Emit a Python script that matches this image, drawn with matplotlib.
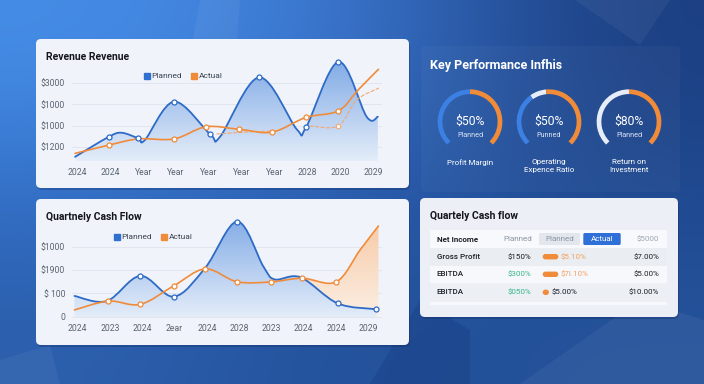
import numpy as np
import matplotlib
matplotlib.use("Agg")
import matplotlib.pyplot as plt
from matplotlib.path import Path
from matplotlib.patches import FancyBboxPatch, PathPatch, Arc, Polygon, Rectangle
from matplotlib.colors import LinearSegmentedColormap
from matplotlib.lines import Line2D

plt.rcParams["font.family"] = ["Roboto", "DejaVu Sans"]

W, H = 704, 384

# ---------------- data ----------------
rev_xlabels = ["2024", "2024", "Year", "Year", "Year", "Year", "Year", "2028", "2020", "2029"]
rev_yticks = [1, 2, 3, 4]
rev_ylabels = ["$1200", "$1000", "$1000", "$3000"]
rev_planned_x = [-0.08, 0.95, 1.34, 1.85, 2.05, 2.94, 4.04, 4.34, 5.53, 6.68, 6.96, 7.95, 8.81, 9.15]
rev_planned_y = [0.54, 1.48, 1.67, 1.41, 1.33, 3.13, 1.60, 1.48, 4.27, 1.83, 1.92, 5.00, 2.42, 2.42]
rev_planned_mark = [0, 1, 0, 1, 0, 1, 1, 0, 1, 0, 1, 1, 0, 0]
rev_actual_x = [-0.08, 0.95, 1.85, 2.94, 3.91, 4.93, 5.93, 6.96, 7.95, 8.55, 9.17]
rev_actual_y = [0.70, 1.09, 1.38, 1.38, 1.95, 1.83, 1.70, 2.39, 2.70, 3.68, 4.65]
rev_actual_mark = [0, 1, 0, 1, 1, 1, 1, 1, 1, 0, 0]
rev_fc_a_x = [4.24, 5.10, 5.96]
rev_fc_a_y = [1.61, 1.70, 1.75]
rev_fc_b_x = [7.08, 7.95, 8.50, 9.17]
rev_fc_b_y = [1.99, 1.99, 3.20, 3.76]

cf_xlabels = ["2024", "2023", "2024", "2ear", "2024", "2028", "2023", "2024", "2024", "2029"]
cf_yticks = [0, 1, 2, 3]
cf_ylabels = ["0", "$ 100", "$1900", "$1000"]
cf_planned_x = [-0.10, 0.90, 1.94, 2.98, 3.95, 4.94, 5.75, 6.10, 6.90, 8.05, 9.25]
cf_planned_y = [0.89, 0.67, 1.75, 0.86, 2.10, 4.08, 2.15, 1.60, 1.69, 0.57, 0.32]
cf_planned_mark = [0, 0, 1, 1, 0, 1, 0, 0, 0, 1, 1]
cf_actual_x = [-0.10, 0.95, 1.94, 2.98, 3.95, 4.93, 5.97, 6.95, 8.00, 8.74, 9.31]
cf_actual_y = [0.29, 0.67, 0.53, 1.33, 2.05, 1.50, 1.49, 1.65, 1.49, 2.86, 3.89]
cf_actual_mark = [0, 1, 1, 1, 1, 1, 1, 1, 1, 0, 0]
cf_peach_from = 7  # actual index where the shaded gap starts

kpi_values = ["$50%", "$50%", "$80%"]
kpi_sub = ["Planned", "Punned", "Planned"]
kpi_names = ["Profit Margin", "Operating\nExpence Ratio", "Return on\nInvestment"]
kpi_blue = [0.50, 0.37, 0.0]
kpi_light = [0.0, 0.11, 0.50]

tbl_header = ["Net Income", "Planned", "Planned", "Actual", "$5000"]
tbl_rows = ["Gross Profit", "EBITDA", "EBITDA"]
tbl_planned = ["$150%", "$300%", "$050%"]
tbl_planned_green = [False, True, True]
tbl_bar = [1.0, 1.0, 0.4]
tbl_actual = ["$5.10%", "$7l.10%", "$5.00%"]
tbl_actual_orange = [True, True, False]
tbl_target = ["$7.00%", "$5.00%", "$10.00%"]

BLUE = "#2e6bc6"
ORANGE = "#f08b3a"
GRID = "#e1e6ee"
TICK = "#5b6470"
CARD = "#f0f4fa"


def smooth(xs, ys, start=0):
    pts = np.column_stack([xs, ys]).astype(float)
    n = len(pts)
    verts = [pts[start]]
    codes = [Path.MOVETO]
    for i in range(start, n - 1):
        p0, p1, p2, p3 = pts[max(i - 1, 0)], pts[i], pts[i + 1], pts[min(i + 2, n - 1)]
        verts += [p1 + (p2 - p0) / 6, p2 - (p3 - p1) / 6, p2]
        codes += [Path.CURVE4] * 3
    return verts, codes


def area_path(xs, ys, ybot, start=0):
    verts, codes = smooth(xs, ys, start)
    verts = verts + [(xs[-1], ybot), (xs[start], ybot), (xs[start], ybot)]
    codes = codes + [Path.LINETO, Path.LINETO, Path.CLOSEPOLY]
    return Path(verts, codes)


def gradient_fill(ax, path, c_top, c_bot, ext):
    patch = PathPatch(path, facecolor="none", edgecolor="none")
    ax.add_patch(patch)
    cmap = LinearSegmentedColormap.from_list("g", [c_bot, c_top])
    im = ax.imshow(np.linspace(1, 0, 256).reshape(-1, 1), cmap=cmap, aspect="auto",
                   extent=ext, origin="upper", zorder=1)
    im.set_clip_path(patch)


def line(ax, xs, ys, color, lw=1.3, **kw):
    v, c = smooth(xs, ys)
    ax.add_patch(PathPatch(Path(v, c), facecolor="none", edgecolor=color, lw=lw,
                           zorder=3, capstyle="round", **kw))


def markers(ax, xs, ys, mask, color):
    xs, ys, mask = np.array(xs), np.array(ys), np.array(mask, bool)
    ax.plot(xs[mask], ys[mask], "o", ms=3.6, mfc="white", mec=color, mew=0.9, zorder=5)


def add_axes_px(fig, x0, y0, x1, y1):
    return fig.add_axes([x0 / W, 1 - y1 / H, (x1 - x0) / W, (y1 - y0) / H])


def style(ax, xlim, ylim, yticks, ylabels, xlabels):
    ax.set_xlim(*xlim)
    ax.set_ylim(*ylim)
    ax.patch.set_visible(False)
    for s in ax.spines.values():
        s.set_visible(False)
    ax.set_yticks(yticks, ylabels)
    ax.set_xticks(range(len(xlabels)), xlabels)
    ax.tick_params(length=0, labelsize=6.2, colors=TICK)
    ax.tick_params(axis="x", pad=5)
    ax.tick_params(axis="y", pad=5)
    ax.grid(axis="y", color=GRID, lw=0.7, zorder=0)
    ax.set_axisbelow(True)


fig = plt.figure(figsize=(W / 100, H / 100), dpi=100)

# ---------------- background ----------------
bg = fig.add_axes([0, 0, 1, 1])
bg.set_xlim(0, W)
bg.set_ylim(H, 0)
bg.axis("off")
corners = np.array([
    [[0x46, 0x8e, 0xe8], [0x3b, 0x76, 0xcf], [0x1b, 0x3e, 0x80]],
    [[0x33, 0x70, 0xc8], [0x2a, 0x5c, 0xae], [0x1f, 0x49, 0x90]],
    [[0x2c, 0x5f, 0xac], [0x22, 0x4f, 0x98], [0x25, 0x53, 0x9a]],
]) / 255
bg.imshow(corners, extent=(0, W, H, 0), interpolation="bicubic", aspect="auto", zorder=0)
facets = [
    [(200, 0), (240, 0), (235, 60), (190, 55)],
    [(575, 0), (670, 0), (640, 45)],
    [(0, 384), (60, 384), (50, 345), (0, 360)],
    [(520, 384), (704, 384), (704, 320), (640, 300)],
]
for f in facets:
    bg.add_patch(Polygon(f, closed=True, facecolor="white", alpha=0.05, lw=0))
bg.add_patch(Polygon([(370, 384), (470, 384), (470, 330), (420, 300)], closed=True,
                     facecolor="#0c2a66", alpha=0.18, lw=0))


def card(x0, y0, x1, y1, color, r=5):
    bg.add_patch(FancyBboxPatch((x0 + 1, y0 + 2), x1 - x0, y1 - y0,
                                boxstyle=f"round,pad=0,rounding_size={r}",
                                facecolor="#0a1f4d", alpha=0.25, lw=0))
    bg.add_patch(FancyBboxPatch((x0, y0), x1 - x0, y1 - y0,
                                boxstyle=f"round,pad=0,rounding_size={r}",
                                facecolor=color, lw=0))


card(36, 39, 409, 188, CARD)
card(36, 199, 409, 345, CARD)
card(420, 198, 678, 317, "#eceff5")
bg.add_patch(FancyBboxPatch((421, 46), 259, 146, boxstyle="round,pad=0,rounding_size=4",
                            facecolor="white", alpha=0.03, lw=0))

bg.text(46, 57, "Revenue Revenue", fontsize=7.5, fontweight="bold", color="#15171c", va="center")
bg.text(46, 217, "Quartnely Cash Flow", fontsize=7.5, fontweight="bold", color="#15171c", va="center")

# ---------------- revenue chart ----------------
ax1 = add_axes_px(fig, 72, 55, 382, 161)
ylim1 = (0.343, 5.32)
xlim1 = ((72 - 77.7) / 32.8, (382 - 77.7) / 32.8)
gradient_fill(ax1, area_path(rev_planned_x, rev_planned_y, ylim1[0]), "#7ca7e5", "#e4edf9",
              (xlim1[0], xlim1[1], ylim1[0], ylim1[1]))
line(ax1, rev_planned_x, rev_planned_y, BLUE)
line(ax1, rev_fc_a_x, rev_fc_a_y, "#f3a86f", lw=0.8, linestyle=(0, (3, 2)))
line(ax1, rev_fc_b_x, rev_fc_b_y, "#f3a86f", lw=0.8, linestyle=(0, (3, 2)))
line(ax1, rev_actual_x, rev_actual_y, ORANGE, lw=1.2)
markers(ax1, rev_planned_x, rev_planned_y, rev_planned_mark, BLUE)
markers(ax1, rev_actual_x, rev_actual_y, rev_actual_mark, ORANGE)
ax1.plot([rev_fc_b_x[1]], [rev_fc_b_y[1]], "o", ms=3.2, mfc="white", mec="#f3a86f", mew=0.8, zorder=5)
style(ax1, xlim1, ylim1, rev_yticks, rev_ylabels, rev_xlabels)

# ---------------- cash flow chart ----------------
ax2 = add_axes_px(fig, 72, 212, 382, 317.5)
ylim2 = (-0.034, 4.49)
xlim2 = ((72 - 77.7) / 32.3, (382 - 77.7) / 32.3)
gradient_fill(ax2, area_path(cf_actual_x, cf_actual_y, ylim2[0], cf_peach_from), "#f6c6a0", "#fcefe4",
              (xlim2[0], xlim2[1], ylim2[0], ylim2[1]))
gradient_fill(ax2, area_path(cf_planned_x, cf_planned_y, ylim2[0]), "#7ca7e5", "#e4edf9",
              (xlim2[0], xlim2[1], ylim2[0], ylim2[1]))
line(ax2, cf_planned_x, cf_planned_y, BLUE)
line(ax2, cf_actual_x, cf_actual_y, ORANGE, lw=1.2)
markers(ax2, cf_planned_x, cf_planned_y, cf_planned_mark, BLUE)
markers(ax2, cf_actual_x, cf_actual_y, cf_actual_mark, ORANGE)
style(ax2, xlim2, ylim2, cf_yticks, cf_ylabels, cf_xlabels)

handles = [Line2D([], [], marker="s", ls="none", ms=4.5, color="#2f6fd0", label="Planned"),
           Line2D([], [], marker="s", ls="none", ms=4.5, color=ORANGE, label="Actual")]
for cx, cy in [(183, 76), (153, 237)]:
    fig.legend(handles=handles, loc="center", bbox_to_anchor=(cx / W, 1 - cy / H), ncol=2,
               frameon=False, fontsize=6, handletextpad=0.2, columnspacing=1.0,
               handlelength=0.8, labelcolor="#3a4250")

# ---------------- KPI gauges ----------------
bg.text(430, 66, "Key Performance Infhis", fontsize=9, fontweight="bold", color="white", va="center")
centers = [470, 549, 629]
cy, R = 121.7, 30
for i, cx in enumerate(centers):
    b_end = 225 - 270 * kpi_blue[i]
    l_end = b_end - 270 * kpi_light[i]
    segs = [(225, b_end, "#3b80e2"), (b_end, l_end, "#e6edf8"), (l_end, -45, ORANGE)]
    for a, b, col in segs:
        if a - b > 0.1:
            bg.add_patch(Arc((cx, cy), 2 * R, 2 * R, theta1=-a, theta2=-b, color=col, lw=3.4))
    bg.text(cx, cy, kpi_values[i], fontsize=8.7, color="white", ha="center", va="center")
    bg.text(cx, cy + 13.5, kpi_sub[i], fontsize=5.2, color="#d9e4f5", ha="center", va="center")
    bg.text(cx, 159, kpi_names[i], fontsize=5.8, color="white", ha="center", va="top",
            linespacing=1.35)

# ---------------- table ----------------
bg.text(430, 216, "Quartely Cash flow", fontsize=7.5, fontweight="bold", color="#15171c", va="center")
bands = [(230, 248.3, "#f7f9fc"), (248.3, 265.7, "#eaedf2"), (265.7, 283.3, "#f6f8fb"),
         (283.3, 301.7, "#eceff4")]
for y0, y1, col in bands:
    bg.add_patch(Rectangle((430, y0), 237, y1 - y0, facecolor=col, lw=0))
bg.add_patch(Rectangle((430, 301.7), 237, 3, facecolor="#f6f8fb", lw=0))

ROW_Y = [239.3, 256.7, 274.3, 292.3]
fs = 5.8
bg.text(436.7, ROW_Y[0], tbl_header[0], fontsize=fs, fontweight="bold", color="#1d2129", va="center")
bg.text(531.7, ROW_Y[0], tbl_header[1], fontsize=fs, color="#8d96a3", va="center", ha="right")
bg.add_patch(FancyBboxPatch((539, 233), 41, 12, boxstyle="round,pad=0,rounding_size=1.5",
                            facecolor="#e2e7ee", lw=0))
bg.text(559.5, ROW_Y[0], tbl_header[2], fontsize=fs, color="#8d96a3", va="center", ha="center")
bg.add_patch(FancyBboxPatch((583.3, 233), 37.4, 12, boxstyle="round,pad=0,rounding_size=1.5",
                            facecolor="#2f6fd8", lw=0))
bg.text(602, ROW_Y[0], tbl_header[3], fontsize=fs, color="white", va="center", ha="center")
bg.text(659, ROW_Y[0], tbl_header[4], fontsize=fs, color="#a0a8b4", va="center", ha="right")

for i, name in enumerate(tbl_rows):
    y = ROW_Y[i + 1]
    bg.text(436.7, y, name, fontsize=fs, fontweight="medium", color="#1d2129", va="center")
    bg.text(531.7, y, tbl_planned[i], fontsize=fs, va="center", ha="right",
            color="#3cb88a" if tbl_planned_green[i] else "#1d2129")
    blen = 15.6 * tbl_bar[i]
    bg.add_patch(FancyBboxPatch((542.7, y - 2.7), blen, 5.4, boxstyle="round,pad=0,rounding_size=2.7",
                                facecolor=ORANGE, lw=0))
    bg.text(542.7 + blen + 2.5, y, tbl_actual[i], fontsize=fs, va="center",
            color="#f3a261" if tbl_actual_orange[i] else "#1d2129")
    bg.text(659, y, tbl_target[i], fontsize=fs, va="center", ha="right", color="#1d2129")

fig.savefig("out.png", dpi=100)
